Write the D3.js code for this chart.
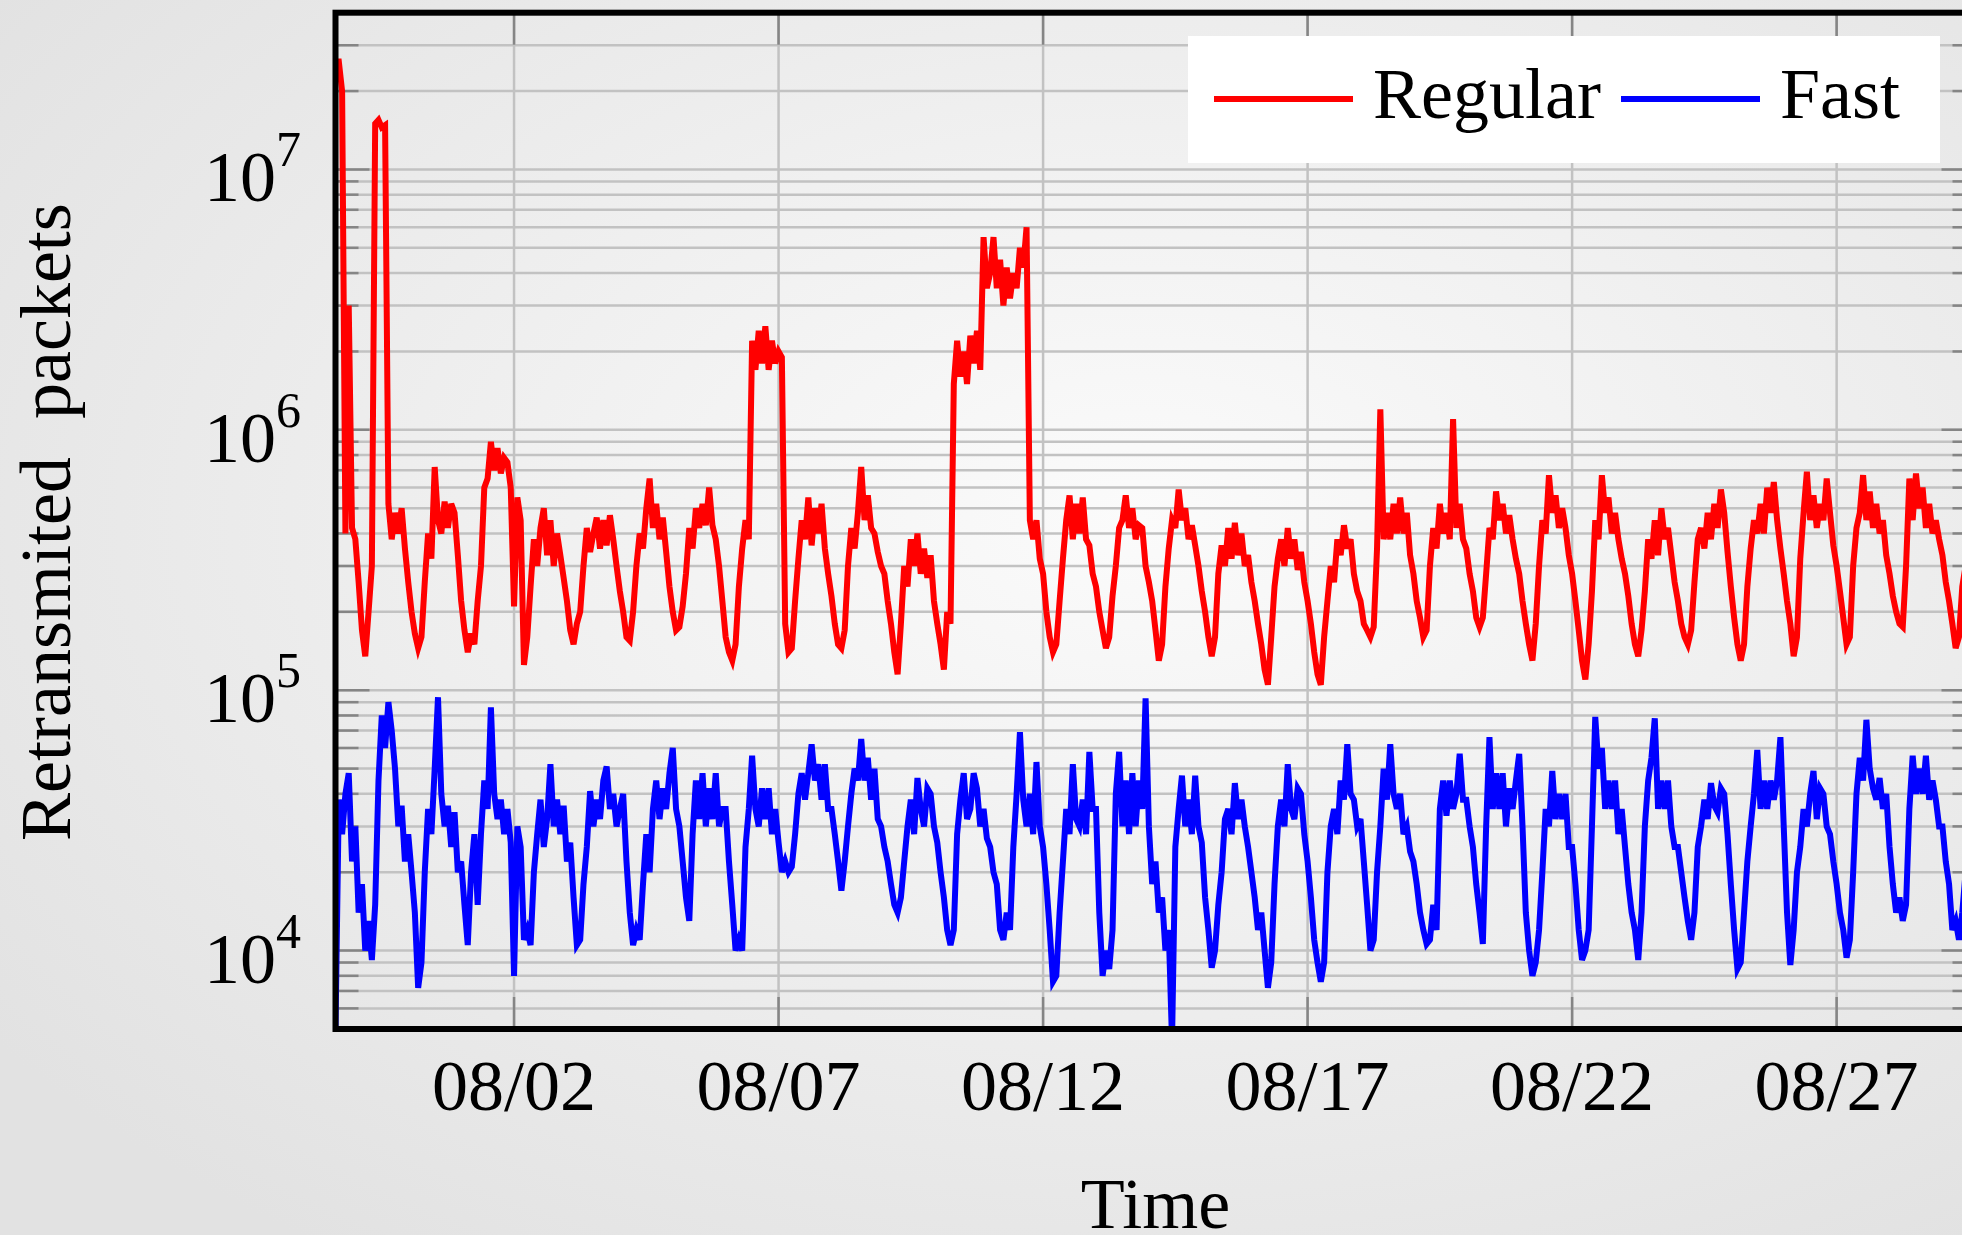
<!DOCTYPE html>
<html>
<head>
<meta charset="utf-8">
<script src="https://cdn.jsdelivr.net/npm/d3@7"></script>
<style>
  html, body { margin: 0; padding: 0; }
  body { width: 1962px; height: 1235px; overflow: hidden; }
  text { font-family: 'Liberation Serif', 'Times New Roman', serif; fill: #000; }
</style>
</head>
<body>
<svg width="1962" height="1235"></svg>
<script>
// one sample every 90 minutes, first one at 07/29 15:00
const startTime = new Date(2015, 6, 29, 15);
const stepMinutes = 90;

// retransmitted packets, in thousands (16 samples per day)
const regularK = [
  26000, 26000, 20000, 400, 3000, 420,
  380, 260, 170, 135, 200, 300, 15000, 15500, 14500, 14800, 520, 380, 480, 400, 500, 350,   // 07/30
  260, 200, 165, 145, 160, 260, 400, 320, 720, 450, 400, 530, 420, 520, 480, 330,           // 07/31
  220, 170, 140, 165, 150, 220, 300, 600, 650, 900, 700, 850, 680, 780, 750, 600,           // 08/01
  210, 550, 450, 125, 160, 250, 380, 300, 420, 500, 330, 450, 300, 400, 330, 270,           // 08/02
  220, 170, 150, 180, 200, 300, 420, 340, 400, 460, 350, 450, 360, 470, 380, 300,           // 08/03
  240, 200, 160, 155, 200, 300, 400, 350, 500, 650, 420, 520, 380, 460, 340, 250,           // 08/04
  200, 170, 175, 210, 280, 420, 350, 500, 420, 520, 430, 600, 430, 380, 300, 220,           // 08/05
  160, 140, 130, 150, 250, 350, 450, 380, 2200, 1700, 2400, 1800, 2500, 1700, 2200, 1800,   // 08/06
  2000, 1900, 180, 140, 145, 220, 320, 450, 380, 550, 360, 500, 400, 520, 350, 280,         // 08/07
  230, 180, 150, 145, 170, 300, 420, 350, 480, 720, 450, 560, 420, 400, 340, 300,           // 08/08
  280, 220, 180, 140, 115, 180, 300, 250, 380, 300, 400, 280, 350, 270, 330, 220,           // 08/09
  180, 150, 120, 200, 180, 1500, 2200, 1600, 2000, 1500, 2300, 1800, 2400, 1700, 5500, 3500, // 08/10
  4000, 5500, 3500, 4500, 3000, 4200, 3200, 4000, 3500, 5000, 4200, 6000, 450, 380, 450, 320, // 08/11
  280, 200, 160, 140, 150, 220, 320, 450, 560, 380, 520, 400, 550, 380, 360, 280,           // 08/12
  250, 200, 170, 145, 160, 230, 300, 420, 450, 560, 420, 500, 380, 430, 420, 300,           // 08/13
  260, 220, 170, 130, 150, 250, 350, 450, 420, 590, 450, 500, 380, 430, 360, 300,           // 08/14
  240, 200, 160, 135, 160, 280, 360, 300, 420, 320, 440, 330, 400, 300, 330, 260,           // 08/15
  220, 180, 150, 120, 105, 160, 250, 320, 380, 300, 420, 320, 380, 290, 340, 260,           // 08/16
  220, 180, 140, 115, 105, 160, 220, 300, 260, 380, 330, 430, 350, 380, 280, 240,           // 08/17
  220, 180, 170, 160, 175, 350, 1200, 380, 480, 380, 520, 400, 550, 400, 480, 330,          // 08/18
  280, 220, 190, 160, 170, 300, 420, 350, 520, 400, 480, 380, 1100, 420, 520, 380,          // 08/19
  350, 280, 240, 190, 175, 190, 280, 420, 380, 580, 450, 520, 400, 470, 380, 320,           // 08/20
  280, 220, 180, 150, 130, 180, 300, 450, 400, 670, 480, 560, 420, 500, 420, 330,           // 08/21
  280, 220, 170, 130, 110, 150, 240, 450, 380, 670, 480, 550, 400, 480, 380, 320,           // 08/22
  280, 230, 180, 150, 135, 170, 240, 380, 320, 450, 330, 500, 380, 420, 330, 260,           // 08/23
  220, 180, 160, 150, 170, 260, 380, 420, 350, 480, 380, 520, 420, 590, 480, 340,           // 08/24
  250, 190, 150, 130, 150, 250, 350, 450, 400, 520, 400, 600, 480, 630, 450, 350,           // 08/25
  280, 220, 180, 135, 160, 320, 480, 690, 450, 560, 420, 520, 450, 650, 480, 360,           // 08/26
  300, 240, 190, 150, 160, 300, 420, 480, 670, 450, 580, 420, 520, 400, 450, 330,           // 08/27
  280, 230, 200, 180, 175, 300, 650, 450, 680, 500, 600, 420, 520, 400, 450, 380,           // 08/28
  330, 260, 220, 180, 145, 160, 250, 300, 350, 420, 380                                     // 08/29
];

const fastK = [
  5, 38, 28, 40, 48, 22,
  30, 14, 18, 10, 13, 9.2, 15, 45, 80, 60, 90, 70, 50, 30, 36, 22,   // 07/30
  28, 20, 14, 7.2, 9, 20, 35, 28, 50, 94, 40, 30, 36, 25, 34, 20,    // 07/31
  22, 15, 10.5, 20, 28, 15, 28, 45, 35, 86, 40, 32, 38, 28, 35, 26,  // 08/01
  8, 30, 25, 11, 12, 10.5, 20, 28, 38, 25, 32, 52, 30, 38, 28, 36,   // 08/02
  22, 26, 16, 10.5, 11, 18, 25, 41, 30, 38, 32, 45, 51, 35, 40, 30,  // 08/03
  35, 40, 22, 14, 10.5, 12, 11, 18, 28, 20, 35, 45, 32, 42, 35, 48,  // 08/04
  60, 35, 30, 22, 16, 13, 28, 45, 32, 48, 30, 42, 32, 48, 30, 35,    // 08/05
  35, 22, 15, 10, 11, 10, 25, 35, 56, 35, 30, 42, 32, 42, 28, 35,    // 08/06
  26, 20, 22, 20, 21, 28, 40, 48, 38, 48, 62, 45, 52, 38, 52, 35,    // 08/07
  35, 28, 22, 17, 22, 30, 40, 50, 45, 65, 45, 55, 38, 50, 32, 30,    // 08/08
  25, 22, 18, 15, 14, 16, 22, 30, 38, 28, 46, 35, 30, 42, 40, 30,    // 08/09
  26, 20, 16, 12, 10.5, 12, 28, 38, 48, 32, 35, 48, 42, 30, 35, 27,  // 08/10
  25, 20, 18, 12, 11, 14, 12, 25, 40, 69, 38, 30, 40, 28, 53, 30,    // 08/11
  25, 18, 12, 7.6, 8, 14, 22, 35, 28, 52, 32, 30, 38, 28, 58, 35,    // 08/12
  35, 14, 8, 10, 8.5, 12, 40, 58, 30, 45, 28, 48, 30, 45, 35, 93,    // 08/13
  30, 18, 22, 14, 16, 10, 12, 4.5, 25, 35, 47, 30, 38, 28, 47, 30,   // 08/14
  26, 16, 12, 8.6, 10, 15, 20, 32, 35, 28, 44, 32, 38, 30, 25, 20,   // 08/15
  16, 12, 14, 10, 7.2, 9, 18, 30, 38, 30, 52, 35, 32, 42, 40, 28,    // 08/16
  22, 16, 11, 9, 7.6, 9, 20, 30, 35, 28, 45, 38, 62, 40, 38, 30,     // 08/17
  32, 22, 15, 10, 11, 20, 30, 50, 38, 62, 40, 35, 40, 28, 30, 24,    // 08/18
  22, 18, 14, 12, 10.6, 11, 15, 12, 35, 45, 33, 45, 35, 40, 57, 38,  // 08/19
  38, 30, 25, 18, 14, 10.6, 30, 66, 35, 48, 35, 48, 30, 42, 35, 45,  // 08/20
  57, 30, 14, 10, 8, 9, 12, 20, 35, 30, 49, 32, 40, 32, 40, 25,      // 08/21
  25, 18, 12, 9.2, 10, 12, 30, 79, 50, 60, 35, 45, 35, 45, 28, 35,   // 08/22
  25, 18, 14, 12, 9.2, 14, 30, 45, 55, 78, 35, 45, 35, 45, 30, 25,   // 08/23
  25, 20, 16, 13, 11, 14, 25, 30, 38, 32, 44, 36, 34, 42, 40, 28,    // 08/24
  18, 12, 8.5, 9, 14, 22, 30, 40, 59, 35, 45, 35, 45, 38, 45, 66,    // 08/25
  30, 14, 8.8, 12, 20, 25, 35, 30, 40, 49, 32, 42, 40, 30, 28, 22,   // 08/26
  18, 14, 12, 9.4, 11, 20, 40, 55, 45, 77, 50, 42, 38, 46, 35, 40,   // 08/27
  25, 18, 14, 16, 13, 15, 35, 56, 40, 50, 40, 56, 38, 45, 38, 30,    // 08/28
  30, 22, 18, 12, 13, 11, 14, 20, 28, 35, 30                         // 08/29
];

const xTickDays = ['2015-08-02', '2015-08-07', '2015-08-12', '2015-08-17', '2015-08-22', '2015-08-27'];
const yDomain = [5e3, 4e7];
const seriesNames = ['Regular', 'Fast'];
const seriesColors = ['#ff0000', '#0000ff'];

const svg = d3.select('svg');
const width = +svg.attr('width');
const height = +svg.attr('height');

// plot box (frame centre line); the right side runs past the picture edge
const plot = { left: 335.5, right: 1975.5, top: 12.7, bottom: 1029 };

const parseDay = d3.timeParse('%Y-%m-%d');
const fmt = d3.timeFormat('%m/%d');
const timeAt = i => d3.timeMinute.offset(startTime, i * stepMinutes);

const x = d3.scaleTime()
  .domain([startTime, timeAt(regularK.length - 1)])
  .range([plot.left, plot.right]);
const y = d3.scaleLog()
  .domain(yDomain)
  .range([plot.bottom, plot.top]);

// background
const defs = svg.append('defs');
const grad = defs.append('radialGradient')
  .attr('id', 'bg')
  .attr('cx', '58%').attr('cy', '42%').attr('r', '72%');
grad.append('stop').attr('offset', '0%').attr('stop-color', '#fbfbfb');
grad.append('stop').attr('offset', '100%').attr('stop-color', '#e2e2e2');
svg.append('rect').attr('width', width).attr('height', height).attr('fill', 'url(#bg)');

defs.append('clipPath').attr('id', 'clip')
  .append('rect')
  .attr('x', plot.left).attr('y', plot.top)
  .attr('width', plot.right - plot.left)
  .attr('height', plot.bottom - plot.top);

const yTicks = y.ticks().filter(v => v > yDomain[0] && v < yDomain[1]);
const isMajor = v => Math.abs(Math.log10(v) - Math.round(Math.log10(v))) < 1e-9;
const xTicks = xTickDays.map(parseDay);

// grid
const grid = svg.append('g').attr('stroke', '#c2c2c2').attr('stroke-width', 2.5);
grid.selectAll('.hg')
  .data(yTicks)
  .enter().append('line')
  .attr('x1', plot.left).attr('x2', plot.right)
  .attr('y1', d => y(d)).attr('y2', d => y(d));
grid.selectAll('.vg')
  .data(xTicks)
  .enter().append('line')
  .attr('x1', d => x(d)).attr('x2', d => x(d))
  .attr('y1', plot.top).attr('y2', plot.bottom);

// tick marks
const ticks = svg.append('g').attr('stroke', '#858585').attr('stroke-width', 2.5);
[plot.left, plot.right].forEach((x0) => {
  const dir = x0 === plot.left ? 1 : -1;
  ticks.selectAll(null)
    .data(yTicks)
    .enter().append('line')
    .attr('x1', x0)
    .attr('x2', d => x0 + dir * (isMajor(d) ? 34 : 23))
    .attr('y1', d => y(d)).attr('y2', d => y(d));
});
[plot.top, plot.bottom].forEach((y0) => {
  const dir = y0 === plot.top ? 1 : -1;
  ticks.selectAll(null)
    .data(xTicks)
    .enter().append('line')
    .attr('x1', d => x(d)).attr('x2', d => x(d))
    .attr('y1', y0).attr('y2', y0 + dir * 32);
});

// series
const line = d3.line()
  .x((d, i) => x(timeAt(i)))
  .y(d => y(d * 1000));

const lines = svg.append('g').attr('clip-path', 'url(#clip)');
[regularK, fastK].forEach((vals, k) => {
  lines.append('path')
    .datum(vals)
    .attr('d', line)
    .attr('fill', 'none')
    .attr('stroke', seriesColors[k])
    .attr('stroke-width', 6)
    .attr('stroke-linejoin', 'miter');
});

// frame
svg.append('rect')
  .attr('x', plot.left).attr('y', plot.top)
  .attr('width', plot.right - plot.left)
  .attr('height', plot.bottom - plot.top)
  .attr('fill', 'none')
  .attr('stroke', '#000')
  .attr('stroke-width', 6);

// y tick labels 10^k
const yLab = svg.append('g');
yTicks.filter(isMajor).forEach((v) => {
  const t = yLab.append('text')
    .attr('x', 301)
    .attr('y', y(v) + 32)
    .attr('text-anchor', 'end')
    .style('font-size', '72px')
    .text('10');
  t.append('tspan')
    .attr('dy', -35)
    .style('font-size', '50px')
    .text(Math.round(Math.log10(v)));
});

// x tick labels
svg.append('g').selectAll('text')
  .data(xTicks)
  .enter().append('text')
  .attr('x', d => x(d))
  .attr('y', 1110)
  .attr('text-anchor', 'middle')
  .style('font-size', '72px')
  .text(d => fmt(d));

// axis titles
svg.append('text')
  .attr('transform', 'translate(70,522) rotate(-90)')
  .attr('text-anchor', 'middle')
  .style('font-size', '72px')
  .style('word-spacing', '20px')
  .text('Retransmited packets');

svg.append('text')
  .attr('x', (plot.left + plot.right) / 2)
  .attr('y', 1228)
  .attr('text-anchor', 'middle')
  .style('font-size', '72px')
  .text('Time');

// legend
const legend = svg.append('g');
legend.append('rect')
  .attr('x', 1188).attr('y', 36)
  .attr('width', 752).attr('height', 127)
  .attr('fill', '#fff');
const legendX = [1214, 1621];
seriesNames.forEach((name, k) => {
  legend.append('line')
    .attr('x1', legendX[k]).attr('x2', legendX[k] + 139)
    .attr('y1', 99).attr('y2', 99)
    .attr('stroke', seriesColors[k])
    .attr('stroke-width', 6);
  legend.append('text')
    .attr('x', legendX[k] + 159)
    .attr('y', 118)
    .style('font-size', '72px')
    .text(name);
});
</script>
</body>
</html>
